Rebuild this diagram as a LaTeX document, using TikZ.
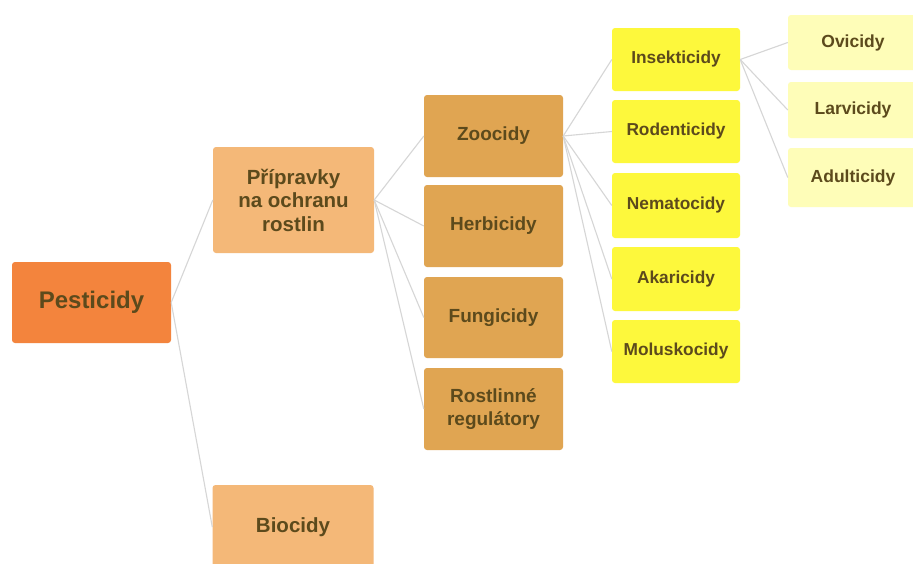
\documentclass[tikz,border=0pt]{standalone}
\usepackage{fontspec}
\setmainfont{Liberation Sans}
\definecolor{cPest}{HTML}{F3843D}
\definecolor{cLev1}{HTML}{F4B878}
\definecolor{cLev2}{HTML}{E0A552}
\definecolor{cLev3}{HTML}{FDF83C}
\definecolor{cLev4}{HTML}{FEFDB8}
\definecolor{cText}{HTML}{5C4A1C}
\definecolor{cLine}{HTML}{D6D6D6}
\begin{document}
\begin{tikzpicture}[x=1pt,y=-1pt,
  box/.style={rectangle, rounded corners=3pt, inner sep=0pt, align=center,
    text=cText, font=\bfseries},
  pest/.style={box, fill=cPest, minimum width=159pt, minimum height=81pt, font=\bfseries\fontsize{24}{28}\selectfont},
  lev1/.style={box, fill=cLev1, minimum width=161pt, font=\bfseries\fontsize{20.5}{23.5}\selectfont},
  lev2/.style={box, fill=cLev2, minimum width=139pt, minimum height=82pt, font=\bfseries\fontsize{19}{23}\selectfont},
  lev3/.style={box, fill=cLev3, minimum width=128pt, font=\bfseries\fontsize{17.3}{21}\selectfont},
  lev4/.style={box, fill=cLev4, minimum width=130pt, font=\bfseries\fontsize{17.5}{21}\selectfont},
  conn/.style={draw=cLine, line width=1.1pt}]
\clip (0,0) rectangle (913,563);
\fill[white] (0,0) rectangle (913,563);
% nodes
\node[pest] (pest) at (91.5,302.5) {Pesticidy};
\node[lev1, minimum height=106pt] (prip) at (293.5,200) {Přípravky\\na ochranu\\rostlin};
\node[lev1, minimum height=84pt] (bio) at (293,527) {Biocidy};
\node[lev2] (zoo) at (493.5,136) {Zoocidy};
\node[lev2] (herb) at (493.5,226) {Herbicidy};
\node[lev2, minimum height=81pt] (fung) at (493.5,317.5) {Fungicidy};
\node[lev2] (rost) at (493.5,409) {Rostlinné\\regulátory};
\node[lev3, minimum height=63pt] (ins) at (676,59.5) {Insekticidy};
\node[lev3, minimum height=63pt] (rod) at (676,131.5) {Rodenticidy};
\node[lev3, minimum height=65pt] (nem) at (676,205.5) {Nematocidy};
\node[lev3, minimum height=64pt] (aka) at (676,279) {Akaricidy};
\node[lev3, minimum height=63pt] (mol) at (676,351.5) {Moluskocidy};
\node[lev4, minimum height=55pt] (ovi) at (853,42.5) {Ovicidy};
\node[lev4, minimum height=56pt] (lar) at (853,110) {Larvicidy};
\node[lev4, minimum height=59pt] (adu) at (853,177.5) {Adulticidy};
% connectors
\begin{scope}[on background layer/.style={}]
\draw[conn] (pest.east) -- (prip.west);
\draw[conn] (pest.east) -- (bio.west);
\foreach \c in {zoo,herb,fung,rost} \draw[conn] (prip.east) -- (\c.west);
\foreach \c in {ins,rod,nem,aka,mol} \draw[conn] (zoo.east) -- (\c.west);
\foreach \c in {ovi,lar,adu} \draw[conn] (ins.east) -- (\c.west);
\end{scope}
\end{tikzpicture}
\end{document}
